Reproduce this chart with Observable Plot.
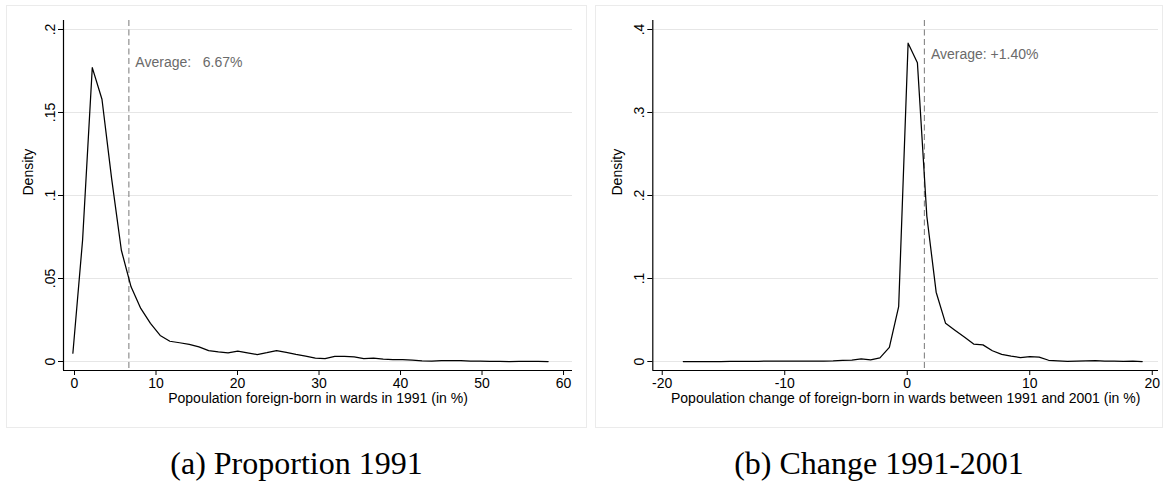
<!DOCTYPE html>
<html>
<head>
<meta charset="utf-8">
<script src="https://cdn.jsdelivr.net/npm/d3@7"></script>
<script src="https://cdn.jsdelivr.net/npm/@observablehq/plot@0.6"></script>
<style>
  html, body { margin: 0; padding: 0; background: #fff; }
  #page { position: relative; width: 1165px; height: 487px; overflow: hidden; background: #fff; }
  .panel { position: absolute; }
  .frame { position: absolute; border: 1px solid #ebebeb; box-sizing: border-box; pointer-events: none; }
  .caption { position: absolute; font-family: "Liberation Serif", "Times New Roman", serif; font-size: 32px; line-height: 1; text-align: center; color: #000; white-space: nowrap; }
</style>
</head>
<body>
<div id="page"></div>
<script>
// ---------- Data ----------
// Panel (a): kernel density of share foreign-born in wards, 1991 (%)
const propX = [-0.2, 0.99, 2.18, 3.37, 4.56, 5.75, 6.94, 8.13, 9.32, 10.51, 11.7, 12.89, 14.08, 15.27, 16.46, 17.65, 18.84, 20.03, 21.22, 22.41, 23.6, 24.79, 25.98, 27.17, 28.36, 29.55, 30.74, 31.93, 33.12, 34.31, 35.5, 36.69, 37.88, 39.07, 40.26, 41.45, 42.64, 43.83, 45.02, 46.21, 47.4, 48.59, 49.78, 50.97, 52.16, 53.35, 54.54, 55.73, 56.92, 58.11];
const propDensity = [0.005, 0.073, 0.177, 0.158, 0.110, 0.067, 0.045, 0.032, 0.023, 0.0157, 0.0122, 0.0113, 0.0103, 0.0088, 0.0066, 0.0058, 0.0052, 0.0062, 0.0052, 0.0042, 0.0053, 0.0066, 0.0055, 0.0043, 0.0033, 0.0021, 0.0017, 0.0031, 0.0031, 0.0028, 0.0017, 0.002, 0.0015, 0.0012, 0.0012, 0.0008, 0.0004, 0.0003, 0.0006, 0.0006, 0.0006, 0.0003, 0.0002, 0.0001, 0.0001, 0.0, 0.0001, 0.0001, 0.0001, 0.0];
const propAverage = 6.67;
const propAverageLabel = "Average:\u00a0\u00a0\u00a06.67%";
const propXTicks = [0, 10, 20, 30, 40, 50, 60];
const propXTickLabels = ["0", "10", "20", "30", "40", "50", "60"];
const propYTicks = [0, 0.05, 0.1, 0.15, 0.2];
const propYTickLabels = ["0", ".05", ".1", ".15", ".2"];
const propXTitle = "Popoulation foreign-born in wards in 1991 (in %)";
const propCaption = "(a) Proportion 1991";

// Panel (b): kernel density of change in foreign-born share, 1991-2001 (%)
const chgX = [-18.28, -17.52, -16.75, -15.99, -15.22, -14.46, -13.69, -12.93, -12.16, -11.40, -10.64, -9.87, -9.11, -8.34, -7.58, -6.81, -6.05, -5.28, -4.52, -3.76, -2.99, -2.23, -1.46, -0.70, 0.07, 0.83, 1.60, 2.36, 3.13, 3.89, 4.66, 5.42, 6.18, 6.95, 7.71, 8.48, 9.24, 10.01, 10.77, 11.54, 12.30, 13.07, 13.83, 14.59, 15.36, 16.12, 16.89, 17.65, 18.42, 19.18];
const chgDensity = [0, 0, 0, 0, 0, 0.0002, 0.0002, 0.0003, 0.0003, 0.0004, 0.0006, 0.0004, 0.0005, 0.0004, 0.0004, 0.0005, 0.0008, 0.0015, 0.0018, 0.0033, 0.002, 0.0044, 0.017, 0.066, 0.3835, 0.360, 0.175, 0.0835, 0.046, 0.0377, 0.0294, 0.021, 0.020, 0.013, 0.0085, 0.0065, 0.0048, 0.0058, 0.0052, 0.0015, 0.0008, 0.0003, 0.0005, 0.0008, 0.0012, 0.0005, 0.0005, 0.0003, 0.0005, 0];
const chgAverage = 1.40;
const chgAverageLabel = "Average: +1.40%";
const chgXTicks = [-20, -10, 0, 10, 20];
const chgXTickLabels = ["-20", "-10", "0", "10", "20"];
const chgYTicks = [0, 0.1, 0.2, 0.3, 0.4];
const chgYTickLabels = ["0", ".1", ".2", ".3", ".4"];
const chgXTitle = "Popoulation change of foreign-born in wards between 1991 and 2001 (in %)";
const chgCaption = "(b) Change 1991-2001";

const yTitle = "Density";

// ---------- Drawing ----------
const FONT = "'Liberation Sans', Arial, Helvetica, sans-serif";
const page = document.getElementById("page");

function panel(cfg) {
  const data = cfg.xs.map((x, i) => ({x, d: cfg.ds[i]}));
  const xFmt = new Map(cfg.xTicks.map((t, i) => [t, cfg.xTickLabels[i]]));
  const yFmt = new Map(cfg.yTicks.map((t, i) => [t, cfg.yTickLabels[i]]));
  const svg = Plot.plot({
    width: cfg.width,
    height: 422,
    marginLeft: cfg.marginLeft,
    marginRight: cfg.marginRight,
    marginTop: 15,
    marginBottom: 57,
    style: {fontFamily: FONT, fontSize: "14px", color: "#000", background: "transparent", overflow: "visible"},
    x: {domain: cfg.xDomain},
    y: {domain: cfg.yDomain},
    marks: [
      Plot.gridY(cfg.yTicks, {stroke: "#e6e6e6", strokeOpacity: 1, strokeWidth: 1.2}),
      Plot.ruleX([cfg.avg], {stroke: "#858585", strokeWidth: 1.1, strokeDasharray: "6,3.5"}),
      Plot.line(data, {x: "x", y: "d", stroke: "#000", strokeWidth: 1.25}),
      Plot.ruleX([cfg.xDomain[0]], {stroke: "#000", strokeWidth: 1.2}),
      Plot.ruleY([cfg.yDomain[0]], {stroke: "#000", strokeWidth: 1.2}),
      Plot.axisX(cfg.xTicks, {tickSize: 5, tickPadding: 3, tickFormat: (d) => xFmt.get(d), label: null, fontSize: 14, stroke: "#000"}),
      Plot.axisY(cfg.yTicks, {tickSize: 5, tickPadding: 4, tickRotate: -90, tickFormat: (d) => yFmt.get(d), label: null, fontSize: 14, stroke: "#000"}),
      Plot.text([cfg.xTitle], {frameAnchor: "bottom", dy: 32, fontSize: 14, fill: "#000"}),
      Plot.text([yTitle], {frameAnchor: "left", dx: -35, rotate: -90, fontSize: 14, fill: "#000"}),
      Plot.text([cfg.avgLabel], {x: () => cfg.avg, y: () => cfg.avgY, dx: 6.5, textAnchor: "start", fontSize: 14, fill: "#6a6a6a"})
    ]
  });
  const wrap = document.createElement("div");
  wrap.className = "panel";
  wrap.style.left = cfg.left + "px";
  wrap.style.top = "5px";
  wrap.appendChild(svg);
  page.appendChild(wrap);

  const frame = document.createElement("div");
  frame.className = "frame";
  frame.style.left = cfg.left + "px";
  frame.style.top = "5px";
  frame.style.width = cfg.width + "px";
  frame.style.height = "423px";
  page.appendChild(frame);

  const cap = document.createElement("div");
  cap.className = "caption";
  cap.textContent = cfg.caption;
  cap.style.left = cfg.left + "px";
  cap.style.width = cfg.width + "px";
  cap.style.top = "447px";
  page.appendChild(cap);
}

panel({
  left: 6, width: 581, marginLeft: 57, marginRight: 15,
  xs: propX, ds: propDensity,
  xDomain: [-1.35, 61.1], yDomain: [-0.00542, 0.20542],
  xTicks: propXTicks, xTickLabels: propXTickLabels,
  yTicks: propYTicks, yTickLabels: propYTickLabels,
  avg: propAverage, avgY: 0.18, avgLabel: propAverageLabel,
  xTitle: propXTitle, caption: propCaption
});

panel({
  left: 595, width: 568, marginLeft: 57.3, marginRight: 5,
  xs: chgX, ds: chgDensity,
  xDomain: [-20.77, 20.51], yDomain: [-0.01084, 0.41084],
  xTicks: chgXTicks, xTickLabels: chgXTickLabels,
  yTicks: chgYTicks, yTickLabels: chgYTickLabels,
  avg: chgAverage, avgY: 0.37, avgLabel: chgAverageLabel,
  xTitle: chgXTitle, caption: chgCaption
});
</script>
</body>
</html>
